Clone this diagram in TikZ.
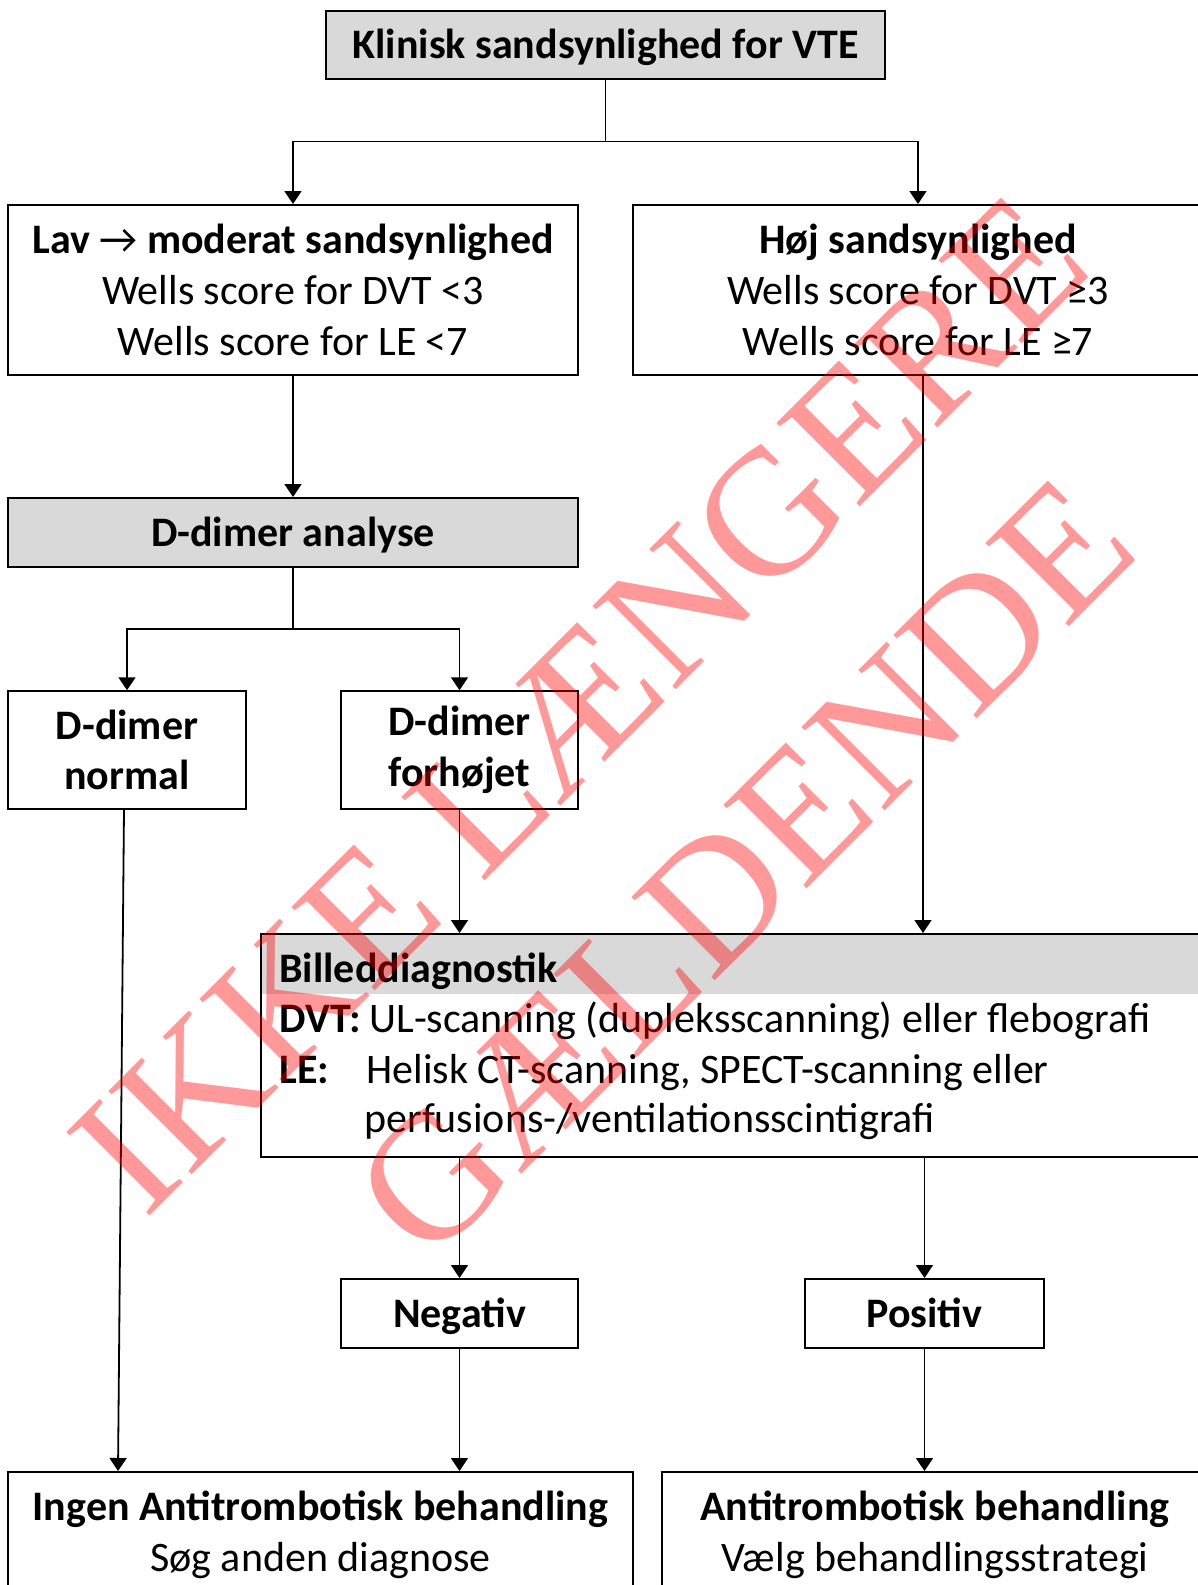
\documentclass[tikz,border=0pt]{standalone}
\usepackage{fontspec}
\setmainfont{Carlito}
\newfontfamily\wmfont{Liberation Serif}
\usetikzlibrary{arrows.meta,positioning}
\definecolor{boxgray}{RGB}{217,217,217}
\newcommand{\boxfont}{\fontsize{21pt}{25.3pt}\selectfont}
\newcommand{\wmsize}{\fontsize{90pt}{116.5pt}\selectfont}

\begin{document}
\begin{tikzpicture}[x=0.5pt,y=0.5pt,yscale=-1,xscale=1,
  box/.style={draw,line width=1pt,inner sep=0pt,align=center,font=\boxfont},
  oneline/.style={text height=17.5pt,text depth=4pt},
  txt/.style={anchor=base west,inner sep=0pt,font=\boxfont},
  conn/.style={line width=0.9pt},
  arr/.style={line width=0.9pt,-{Triangle[length=6.5pt,width=8.5pt]}}]
\useasboundingbox (0,0) rectangle (1198,1585);
\clip (0,0) rectangle (1198,1585);

%Shape: Rectangle [top]
\node (klin) at (605.5,45) [box,oneline,fill=boxgray,minimum width=279.5pt,minimum height=34pt] {\textbf{Klinisk sandsynlighed for VTE}};
%Shape: Rectangle [low]
\node (lav) at (293,290) [box,minimum width=285pt,minimum height=85pt] {\textbf{Lav {\mdseries →} moderat sandsynlighed}\\Wells score for DVT <3\\Wells score for LE <7};
%Shape: Rectangle [high]
\node (hoj) at (918,290) [box,minimum width=285pt,minimum height=85pt] {\textbf{Høj sandsynlighed}\\Wells score for DVT ≥3\\Wells score for LE ≥7};

%Shape: Rectangle [d-dimer]
\node (ddim) at (293,532.5) [box,oneline,fill=boxgray,minimum width=285pt,minimum height=34.5pt] {\textbf{D-dimer analyse}};
\node (normal) at (127,750) [box,minimum width=119pt,minimum height=58.75pt] {\textbf{D-dimer}\\\textbf{normal}};
\node (forh) at (459.5,750) [box,minimum width=118.5pt,minimum height=58.75pt] {\textbf{D-dimer}\\\textbf{forhøjet}};

%Shape: Rectangle [imaging]
\fill [boxgray] (260,933) rectangle (1240,994);
\node (billed) at (260,933) [box,anchor=north west,minimum width=490pt,minimum height=111.5pt] {};
% Text Node
\node (bhead) at (279,982) [txt] {\textbf{Billeddiagnostik}};
\node (dvt) at (279,1032) [txt] {\textbf{DVT:}};
\node (dvttxt) at (369,1032) [txt] {UL-scanning (dupleksscanning) eller flebografi};
\node (le) at (279,1083) [txt] {\textbf{LE:}};
\node (letxt) at (366,1083) [txt] {Helisk CT-scanning, SPECT-scanning eller};
\node (letxtb) at (364,1132) [txt] {perfusions-/ventilationsscintigrafi};

%Shape: Rectangle [results]
\node (neg) at (459.5,1313.5) [box,oneline,minimum width=118.5pt,minimum height=34.5pt] {\textbf{Negativ}};
\node (pos) at (924.5,1313.5) [box,oneline,minimum width=119.5pt,minimum height=34.5pt] {\textbf{Positiv}};

%Shape: Rectangle [treatment]
\node (ingen) at (320.5,1535) [box,minimum width=312.5pt,minimum height=63pt] {\textbf{Ingen Antitrombotisk behandling}\\Søg anden diagnose};
\node (anti) at (935,1535) [box,minimum width=273pt,minimum height=63pt] {\textbf{Antitrombotisk behandling}\\Vælg behandlingsstrategi};

%Straight Lines
\coordinate (splita) at (605.5,141.5);
\coordinate (splitb) at (293,629);
\draw [conn] (klin) -- (splita);
\draw [arr] (splita) -| (lav);
\draw [arr] (splita) -| (hoj);
\draw [arr] (lav) -- (ddim);
\draw [conn] (ddim) -- (splitb);
\draw [arr] (splitb) -| (normal);
\draw [arr] (splitb) -| (forh);
\draw [arr] (forh) -- (forh |- billed.north);
\draw [arr] ([xshift=2.5pt]hoj.south) -- ([xshift=2.5pt]hoj.south |- billed.north);
\draw [arr] (neg |- billed.south) -- (neg);
\draw [arr] (pos |- billed.south) -- (pos);
\draw [arr] ([xshift=-1.5pt]normal.south) -- ([xshift=-4.5pt]normal.south |- ingen.north);
\draw [arr] (neg) -- (neg |- ingen.north);
\draw [arr] (pos) -- (pos |- anti.north);

% Text Node [watermark]
\node (wm) at (662,786) [rotate=45,text=red,text opacity=0.4,font=\wmfont\wmsize,align=center,inner sep=0pt] {IKKE LÆNGERE\\GÆLDENDE};

\end{tikzpicture}
\end{document}
